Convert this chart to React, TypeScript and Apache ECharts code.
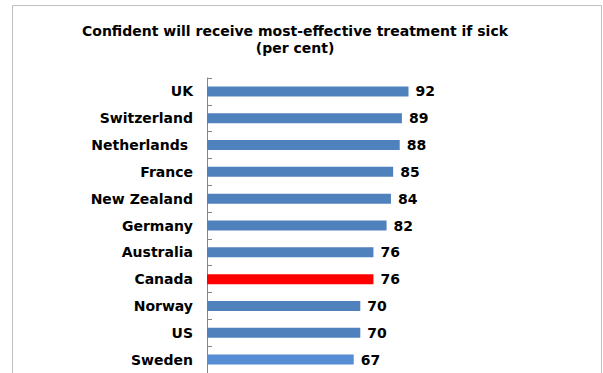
import React, { useEffect, useRef } from "react";
import * as echarts from "echarts";

const categories = [
  "UK",
  "Switzerland",
  "Netherlands ",
  "France",
  "New Zealand",
  "Germany",
  "Australia",
  "Canada",
  "Norway",
  "US",
  "Sweden",
];
const values = [92, 89, 88, 85, 84, 82, 76, 76, 70, 70, 67];
const titleLines = ["Confident will receive most-effective treatment if sick", "(per cent)"];

const FONT = '"DejaVu Sans", Verdana, sans-serif';

function barColor(name: string): string {
  if (name === "Canada") return "#FF0000";
  if (name === "Sweden") return "#558ED5";
  return "#4F81BD";
}

export default function App() {
  const ref = useRef<HTMLDivElement>(null);
  useEffect(() => {
    if (!ref.current) return;
    const chart = echarts.init(ref.current, null, { renderer: "svg" });
    chart.setOption({
      animation: false,
      backgroundColor: "#ffffff",
      graphic: [
        {
          type: "rect",
          shape: { x: 12.5, y: 5.5, width: 589, height: 420 },
          style: { fill: "none", stroke: "#BFBFBF", lineWidth: 1 },
          silent: true,
        },
        {
          type: "text",
          x: 295,
          y: 22,
          style: {
            text: titleLines.join("\n"),
            textAlign: "center",
            textVerticalAlign: "top",
            fontFamily: FONT,
            fontSize: 14,
            fontWeight: "bold",
            lineHeight: 17,
            fill: "#000000",
          },
          silent: true,
        },
      ],
      grid: { left: 207, top: 78, width: 219, height: 297, containLabel: false },
      xAxis: {
        type: "value",
        min: 0,
        max: 100,
        show: false,
      },
      yAxis: {
        type: "category",
        data: categories,
        inverse: true,
        axisLine: { show: true, lineStyle: { color: "#868686", width: 1 } },
        axisTick: { show: true, inside: true, length: 5, lineStyle: { color: "#868686" } },
        axisLabel: {
          margin: 14,
          fontFamily: FONT,
          fontSize: 14,
          fontWeight: "bold",
          color: "#000000",
        },
        splitLine: { show: false },
      },
      series: [
        {
          type: "bar",
          barWidth: 10,
          data: values.map((v, i) => ({
            value: v,
            itemStyle: { color: barColor(categories[i]) },
          })),
          label: {
            show: true,
            position: "right",
            distance: 7,
            fontFamily: FONT,
            fontSize: 14,
            fontWeight: "bold",
            color: "#000000",
          },
        },
      ],
    });
    return () => chart.dispose();
  }, []);
  return (
    <div
      ref={ref}
      style={{ position: "absolute", left: 0, top: 0, width: 603, height: 373 }}
    />
  );
}
